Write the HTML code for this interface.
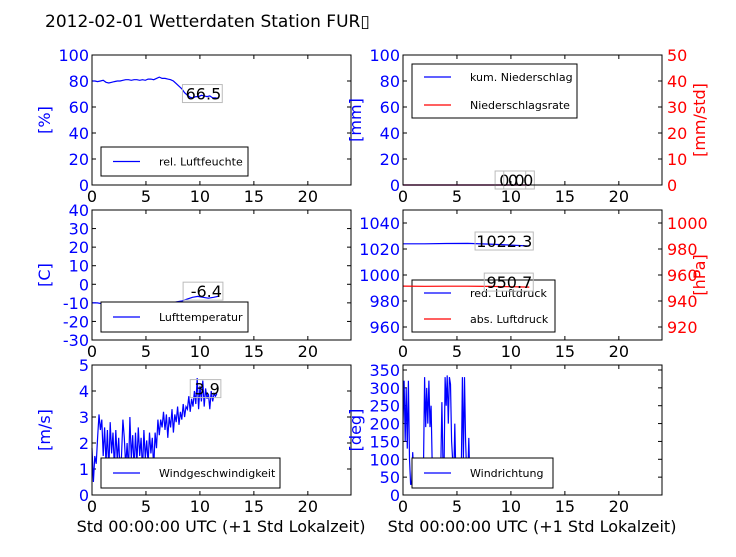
<!DOCTYPE html>
<html><head><meta charset="utf-8"><style>
body{margin:0;background:#fff;width:736px;height:552px;overflow:hidden}
svg{font-family:"DejaVu Sans","Liberation Sans",sans-serif}
</style></head><body>
<svg id="c" width="736" height="552" xmlns="http://www.w3.org/2000/svg">
<text x="45" y="27" font-size="17" fill="#000">2012-02-01 Wetterdaten Station FUR&#9647;</text>
</svg>
<script>
const humStep=0.26;
const humidity=[80,80,79.5,80,80.5,79,78.5,79,79.5,80,80,80.5,81,81,80.5,81,81,80.5,81,80.5,81.5,81.5,81,82,83,82,82,81.5,81,80,78,76,74,71,69,67.5,67,68,68,69,68.5,68,68.5,67,67,66.5];
const tempStep=0.49;
const temperature=[-10,-10,-10.5,-11,-11,-11.5,-12,-12,-12,-12,-11.5,-11.5,-11,-11,-10.5,-10,-9.5,-9,-8,-7,-6.5,-7,-7.5,-7,-6.4];
const windStep=0.13;
const windSpeed=[1.8,0.5,1.5,1.2,2.2,3.1,2.5,2.9,1.5,2.6,1.2,2.5,0.9,2.8,1.6,2.4,1.0,2.5,1.3,2.2,0.8,1.5,2.9,2.2,1.1,2.0,0.9,3.0,1.4,2.3,1.0,2.4,1.2,2.6,1.5,2.2,0.9,2.5,1.4,2.1,1.2,2.4,1.6,2.2,1.0,2.4,1.8,2.9,2.3,2.9,2.6,3.2,2.5,3.1,2.2,3.0,2.6,3.3,2.4,3.1,2.8,3.4,2.7,3.2,2.9,3.5,3.0,3.4,3.3,3.8,3.2,3.7,3.4,4.0,3.5,4.5,3.3,4.2,3.6,4.4,3.4,4.1,3.7,3.9,3.3,4.0,3.6,3.9,3.8,3.9];
const dirStep=0.1;
const windDir=[200,320,150,300,130,320,100,30,30,120,60,80,40,90,60,70,50,60,40,80,330,190,300,200,320,190,250,100,40,50,60,40,50,60,40,80,260,100,60,330,250,335,200,330,310,150,100,40,200,50,60,40,50,60,70,330,100,330,150,60,50,160,40];
const precipT=[0,11.7];
const precipCum=[0,0];
const precipRate=[0,0];
const pressT=[0,2,4,6,8,10,11.7];
const pressRed=[1024,1024,1024.2,1024.3,1023.8,1023,1022.3];
const pressAbs=[951.5,951.3,951.4,951.4,951.2,951,950.7];
const xTicks=[0,5,10,15,20];

const svg=document.getElementById('c');
const NS='http://www.w3.org/2000/svg';
function el(tag,attrs,parent){const e=document.createElementNS(NS,tag);for(const k in attrs)e.setAttribute(k,attrs[k]);(parent||svg).appendChild(e);return e;}

function panel(name,x0,x1,y0,y1,ymin,ymax,yticks,ylabel,yc){
  const g=el('g',{});
  
  
  const p={g,x0,x1,y0,y1,ymin,ymax,
    xs:t=>x0+(t/24)*(x1-x0),
    ys:v=>y1-(v-ymin)/(ymax-ymin)*(y1-y0)};
  yticks.forEach(v=>{const y=p.ys(v);
    el('line',{x1:x0,x2:x0+4,y1:y,y2:y,stroke:'#000'},g);
    el('line',{x1:x1,x2:x1-4,y1:y,y2:y,stroke:'#000'},g);
    const t=el('text',{x:x0-3,y:y+6,'text-anchor':'end','font-size':'16',fill:yc||'#00f'},g);t.textContent=v;
    
    
  });
  xTicks.forEach(v=>{const x=p.xs(v);
    el('line',{x1:x,x2:x,y1:y1,y2:y1-4,stroke:'#000'},g);
    el('line',{x1:x,x2:x,y1:y0,y2:y0+4,stroke:'#000'},g);
    const t=el('text',{x:x,y:y1+17,'text-anchor':'middle','font-size':'16',fill:'#000'},g);t.textContent=v;
    
    
  });
  const yl=el('text',{x:0,y:0,'text-anchor':'middle','font-size':'16',fill:'#00f',transform:`translate(${x0-42},${(y0+y1)/2}) rotate(-90)`},g);
  yl.textContent=ylabel;
  
  
  return p;
}
function right(p,rmin,rmax,ticks,label){
  const rs=v=>p.y1-(v-rmin)/(rmax-rmin)*(p.y1-p.y0);
  ticks.forEach(v=>{const y=rs(v);
    const t=el('text',{x:p.x1+5,y:y+6,'font-size':'16',fill:'#f00'},p.g);t.textContent=v;
    
    
  });
  const yl=el('text',{x:0,y:0,'text-anchor':'middle','font-size':'16',fill:'#f00',transform:`translate(${p.x1+43},${(p.y0+p.y1)/2}) rotate(-90)`},p.g);
  yl.textContent=label;
  
  
  return rs;
}
function line(p,ts,vs,ys,color,name){
  const d=vs.map((v,i)=>(i?'L':'M')+p.xs(ts[i]).toFixed(1)+','+ys(v).toFixed(1)).join('');
  const pa=el('path',{d,fill:'none',stroke:color,'stroke-width':'1.2'},p.g);
  
  
}
function annot(p,t,v,ys,label){
  const x=p.xs(t)+3,y=ys(v)+1;
  const w=label.length*9.2+2;
  el('rect',{x:x-w,y:y-15,width:w+1,height:18,fill:'none',stroke:'#bbb','stroke-width':'1'},p.g);
  const tx=el('text',{x,y,'text-anchor':'end','font-size':'16',fill:'#000'},p.g);tx.textContent=label;
  
  
}
function legend(p,x,y,w,h,items){
  const lg=el('g',{},p.g);
  
  
  el('rect',{x,y,width:w,height:h,fill:'#fff',stroke:'#000','stroke-width':'1'},lg);
  items.forEach((it,i)=>{const yy=y+(items.length==1?h/2:13+i*(h-26));
    el('line',{x1:x+12,x2:x+39,y1:yy,y2:yy,stroke:it[1],'stroke-width':'1.2'},lg);
    const t=el('text',{x:x+58,y:yy+4,'font-size':'11',fill:'#000'},lg);t.textContent=it[0];
    
    
  });
}
function frame(p){el('rect',{x:p.x0,y:p.y0,width:p.x1-p.x0,height:p.y1-p.y0,fill:'none',stroke:'#000','stroke-width':'1'},p.g);}
const seq=(n,s)=>Array.from({length:n},(_,i)=>i*s);

let p=panel('humidity',92,351,55,185,0,100,[0,20,40,60,80,100],'[%]');
const hT=seq(humidity.length,humStep);
line(p,hT,humidity,p.ys,'#00f','humidity-line');
annot(p,hT[hT.length-1],humidity[humidity.length-1],p.ys,humidity[humidity.length-1].toFixed(1));
legend(p,101,147,147,29,[['rel. Luftfeuchte','#00f']]);frame(p);

p=panel('precipitation',403,662,55,185,0,100,[0,20,40,60,80,100],'[mm]');
let rs=right(p,0,50,[0,10,20,30,40,50],'[mm/std]');
line(p,precipT,precipCum,p.ys,'#00f','cum-precip-line');
line(p,precipT,precipRate,rs,'#f00','precip-rate-line');
annot(p,11.0,0,p.ys,precipCum[1].toFixed(1));
annot(p,11.8,0,p.ys,precipRate[1].toFixed(1));
legend(p,412,64,165,54,[['kum. Niederschlag','#00f'],['Niederschlagsrate','#f00']]);frame(p);

p=panel('temperature',92,351,210,340,-30,40,[-30,-20,-10,0,10,20,30,40],'[C]');
const tT=seq(temperature.length,tempStep);
line(p,tT,temperature,p.ys,'#00f','temperature-line');
annot(p,tT[tT.length-1],temperature[temperature.length-1],p.ys,temperature[temperature.length-1].toFixed(1));
legend(p,101,302,147,30,[['Lufttemperatur','#00f']]);frame(p);

p=panel('pressure',403,662,210,340,950,1050,[960,980,1000,1020,1040],'');
rs=right(p,910,1010,[920,940,960,980,1000],'[hPa]');
line(p,pressT,pressRed,p.ys,'#00f','red-pressure-line');
annot(p,11.7,pressRed[pressRed.length-1],p.ys,pressRed[pressRed.length-1].toFixed(1));
legend(p,412,280,143,52,[['red. Luftdruck','#00f'],['abs. Luftdruck','#f00']]);
line(p,pressT,pressAbs,rs,'#f00','abs-pressure-line');
annot(p,11.7,pressAbs[pressAbs.length-1],rs,pressAbs[pressAbs.length-1].toFixed(1));
frame(p);

p=panel('wind-speed',92,351,365,495,0,5,[0,1,2,3,4,5],'[m/s]');
const wT=seq(windSpeed.length,windStep);
line(p,wT,windSpeed,p.ys,'#00f','wind-speed-line');
annot(p,wT[wT.length-1],windSpeed[windSpeed.length-1],p.ys,windSpeed[windSpeed.length-1].toFixed(1));
legend(p,101,458,179,30,[['Windgeschwindigkeit','#00f']]);frame(p);

p=panel('wind-direction',403,662,365,495,0,364,[0,50,100,150,200,250,300,350],'[deg]');
const dT=seq(windDir.length,dirStep);
line(p,dT,windDir,p.ys,'#00f','wind-direction-line');
legend(p,412,458,141,30,[['Windrichtung','#00f']]);frame(p);

[[221,'x-axis-title-left'],[532,'x-axis-title-right']].forEach(([x,n])=>{
  const t=el('text',{x,y:532,'text-anchor':'middle','font-size':'16',fill:'#000'});
  t.textContent='Std 00:00:00 UTC (+1 Std Lokalzeit)';
  
  
});
</script>
</body></html>
